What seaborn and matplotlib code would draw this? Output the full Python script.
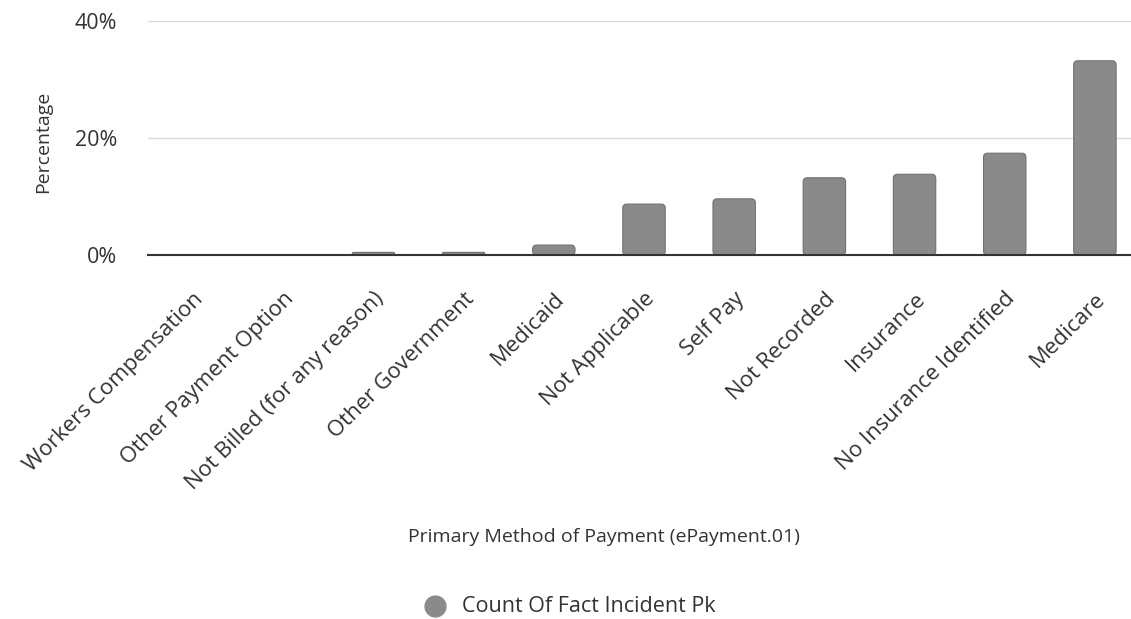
import pandas as pd
import seaborn as sns
import matplotlib.pyplot as plt
from matplotlib.lines import Line2D
from matplotlib.patches import FancyBboxPatch
from matplotlib.ticker import FuncFormatter

categories = [
    "Workers Compensation",
    "Other Payment Option",
    "Not Billed (for any reason)",
    "Other Government",
    "Medicaid",
    "Not Applicable",
    "Self Pay",
    "Not Recorded",
    "Insurance",
    "No Insurance Identified",
    "Medicare",
]
percent = [0.05, 0.05, 0.45, 0.45, 1.7, 8.7, 9.6, 13.2, 13.8, 17.4, 33.2]
series_name = "Count Of Fact Incident Pk"

df = pd.DataFrame({"method": categories, "pct": percent})

sns.set_style("white")
plt.rcParams["font.family"] = ["Open Sans", "DejaVu Sans"]

fig = plt.figure(figsize=(11.31, 6.19), dpi=100)
ax = fig.add_axes([148 / 1131, 1 - 255 / 619, (1140 - 148) / 1131, (255 - 21) / 619])

sns.barplot(data=df, x="method", y="pct", color="#8a8a8a", width=0.47,
            edgecolor="#707070", linewidth=0.8, ax=ax, zorder=3)

# soften bar corners a little (rounded in pixel terms)
aspect = (40 / 234) / (11 / 992)
for p in list(ax.patches):
    x, y, w, h = p.get_x(), p.get_y(), p.get_width(), p.get_height()
    r = min(0.045, h / aspect / 2)
    fb = FancyBboxPatch((x, y), w, h, boxstyle=f"round,pad=0,rounding_size={r}",
                        mutation_aspect=aspect, facecolor=p.get_facecolor(),
                        edgecolor="#707070", linewidth=0.8, zorder=3)
    p.remove()
    ax.add_patch(fb)

ax.set_ylim(0, 40)
ax.set_xlim(-0.5, 10.5)
ax.set_yticks([0, 20, 40])
ax.yaxis.set_major_formatter(FuncFormatter(lambda v, _: f"{v:.0f}%"))
ax.grid(axis="y", color="#d9d9d9", linewidth=1, zorder=0)
for s in ["top", "right", "left"]:
    ax.spines[s].set_visible(False)
ax.spines["bottom"].set_color("#333333")
ax.spines["bottom"].set_linewidth(1.5)
ax.spines["bottom"].set_zorder(4)

ax.tick_params(axis="y", length=0, labelsize=15.5, labelcolor="#333333", pad=22)
ax.tick_params(axis="x", length=0, labelsize=16, labelcolor="#333333", pad=24)
for lbl in ax.get_xticklabels():
    lbl.set_rotation(45)
    lbl.set_ha("right")
    lbl.set_rotation_mode("anchor")

ax.set_xlabel("")
ax.set_ylabel("")
fig.text(43 / 1131, 1 - 142 / 619, "Percentage", rotation=90, ha="center",
         va="center", fontsize=14, color="#333333")
fig.text(604 / 1131, 1 - 537 / 619, "Primary Method of Payment (ePayment.01)",
         ha="center", va="center", fontsize=14, color="#333333")

fig.lines.append(Line2D([435 / 1131], [1 - 606 / 619], marker="o", markersize=15,
                        linestyle="", color="#8a8a8a",
                        transform=fig.transFigure, figure=fig))
fig.text(462 / 1131, 1 - 606 / 619, series_name, ha="left", va="center",
         fontsize=15.5, color="#333333")

fig.savefig("out.png", dpi=100)
